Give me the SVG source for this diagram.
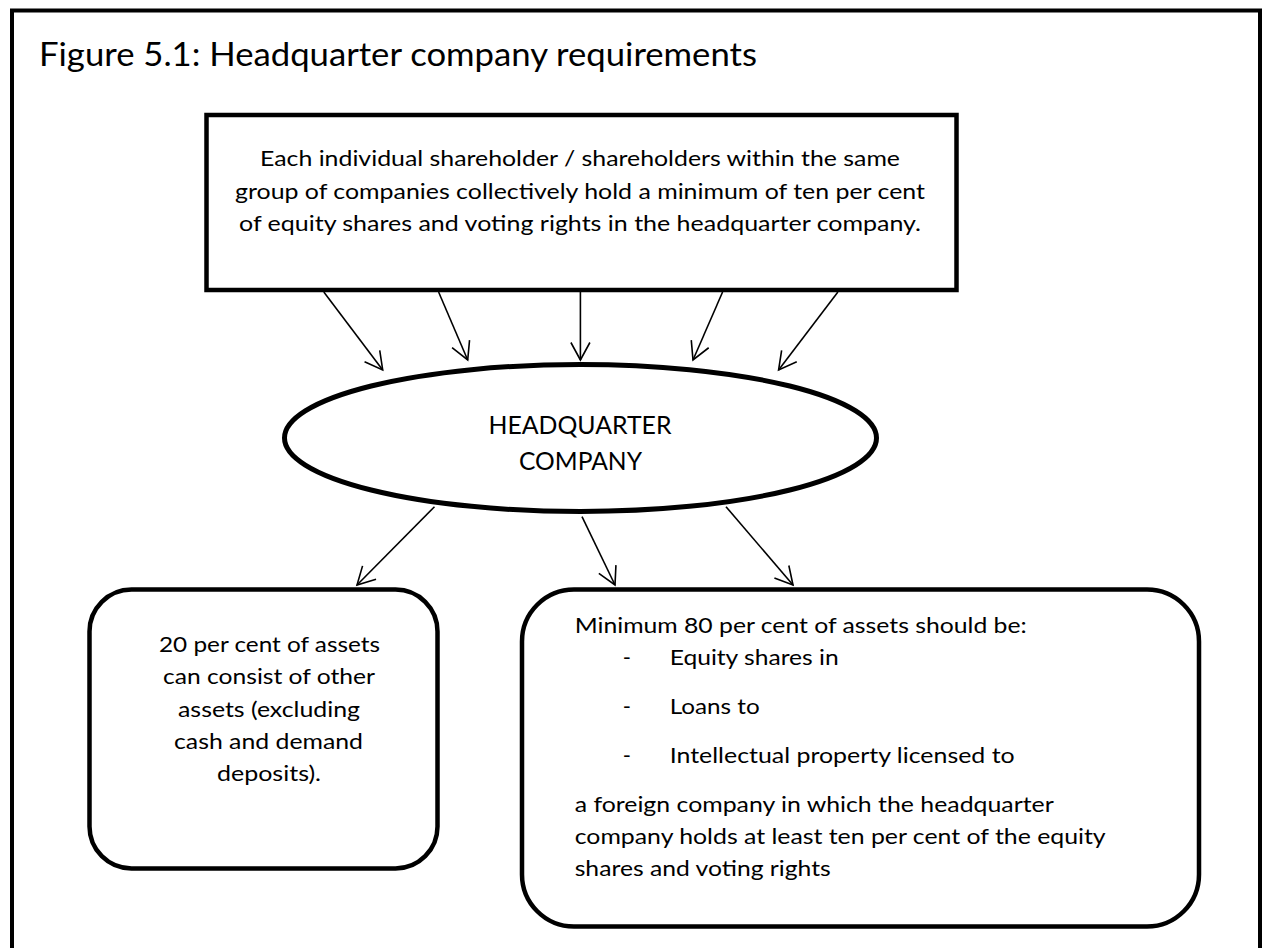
<svg xmlns="http://www.w3.org/2000/svg" width="1262" height="948" viewBox="0 0 1262 948">
  <style>
    .frame { fill: #ffffff; stroke: #000000; stroke-width: 4; }
    .box { fill: #ffffff; stroke: #000000; stroke-width: 4.5; }
    .txt { font-family: Lato, "Noto Sans", sans-serif; font-size: 22px; fill: #000000; }
    .title { font-family: Lato, "Noto Sans", sans-serif; font-size: 32px; fill: #000000; }
    .hq { font-family: Lato, "Noto Sans", sans-serif; font-size: 25px; fill: #000000; }
    .mid { text-anchor: middle; }
    .conn line { stroke: #000000; stroke-width: 1.6; fill: none; marker-end: url(#vhead); }
  </style>
  <defs>
    <marker id="vhead" markerUnits="userSpaceOnUse" markerWidth="40" markerHeight="40" refX="0" refY="0" orient="auto" viewBox="-20 -20 40 40" overflow="visible">
      <path d="M -17.5 -9.5 L 0 0 L -17.5 9.5" fill="none" stroke="#000000" stroke-width="1.6" stroke-linejoin="miter"/>
    </marker>
  </defs>

  <rect width="1262" height="948" fill="#ffffff"/>

  <!-- outer frame -->
  <rect class="frame" x="12" y="10.5" width="1248" height="1000"/>

  <text class="title" x="39" y="66" textLength="718" lengthAdjust="spacingAndGlyphs">Figure 5.1: Headquarter company requirements</text>

  <!-- shareholder requirement -->
  <g id="shareholders">
    <rect class="box" x="206.5" y="115" width="750" height="175"/>
    <text class="txt mid" x="580" y="166" textLength="640" lengthAdjust="spacingAndGlyphs">Each individual shareholder / shareholders within the same</text>
    <text class="txt mid" x="580" y="199" textLength="690" lengthAdjust="spacingAndGlyphs">group of companies collectively hold a minimum of ten per cent</text>
    <text class="txt mid" x="580" y="231" textLength="682" lengthAdjust="spacingAndGlyphs">of equity shares and voting rights in the headquarter company.</text>
  </g>

  <!-- headquarter company -->
  <g id="hq-company">
    <ellipse cx="580.5" cy="438" rx="296" ry="73.5" fill="#ffffff" stroke="#000000" stroke-width="5"/>
    <text class="hq mid" x="580" y="434" textLength="183" lengthAdjust="spacingAndGlyphs">HEADQUARTER</text>
    <text class="hq mid" x="580.5" y="470" textLength="123" lengthAdjust="spacingAndGlyphs">COMPANY</text>
  </g>

  <!-- other assets (20 per cent) -->
  <g id="other-assets">
    <rect class="box" x="89.5" y="589.5" width="348" height="279" rx="42" ry="42"/>
    <text class="txt mid" x="269.5" y="652" textLength="221" lengthAdjust="spacingAndGlyphs">20 per cent of assets</text>
    <text class="txt mid" x="269" y="684" textLength="212" lengthAdjust="spacingAndGlyphs">can consist of other</text>
    <text class="txt mid" x="269" y="717" textLength="182" lengthAdjust="spacingAndGlyphs">assets (excluding</text>
    <text class="txt mid" x="268.5" y="749" textLength="189" lengthAdjust="spacingAndGlyphs">cash and demand</text>
    <text class="txt mid" x="269" y="781" textLength="104" lengthAdjust="spacingAndGlyphs">deposits).</text>
  </g>

  <!-- qualifying assets (80 per cent) -->
  <g id="qualifying-assets">
    <rect class="box" x="522" y="589.5" width="677" height="337" rx="52" ry="52"/>
    <text class="txt" x="574.7" y="633" textLength="452" lengthAdjust="spacingAndGlyphs">Minimum 80 per cent of assets should be:</text>
    <text class="txt" x="622.7" y="665">-</text>
    <text class="txt" x="669.7" y="665" textLength="169" lengthAdjust="spacingAndGlyphs">Equity shares in</text>
    <text class="txt" x="622.7" y="714">-</text>
    <text class="txt" x="669.7" y="714" textLength="90" lengthAdjust="spacingAndGlyphs">Loans to</text>
    <text class="txt" x="622.7" y="763">-</text>
    <text class="txt" x="669.7" y="763" textLength="345" lengthAdjust="spacingAndGlyphs">Intellectual property licensed to</text>
    <text class="txt" x="574.7" y="812" textLength="479" lengthAdjust="spacingAndGlyphs">a foreign company in which the headquarter</text>
    <text class="txt" x="574.7" y="844" textLength="531" lengthAdjust="spacingAndGlyphs">company holds at least ten per cent of the equity</text>
    <text class="txt" x="574.7" y="876" textLength="256" lengthAdjust="spacingAndGlyphs">shares and voting rights</text>
  </g>

  <!-- connectors -->
  <g id="connectors" class="conn">
    <line x1="323.8" y1="292" x2="382.7" y2="370"/>
    <line x1="438.6" y1="292" x2="467.7" y2="360"/>
    <line x1="580.4" y1="292" x2="580.4" y2="360"/>
    <line x1="722.6" y1="292" x2="693" y2="360"/>
    <line x1="837.9" y1="292" x2="778.6" y2="370"/>
    <line x1="434.5" y1="506.7" x2="357" y2="585"/>
    <line x1="582" y1="516.7" x2="615" y2="585"/>
    <line x1="726" y1="506.7" x2="793" y2="585"/>
  </g>
</svg>
